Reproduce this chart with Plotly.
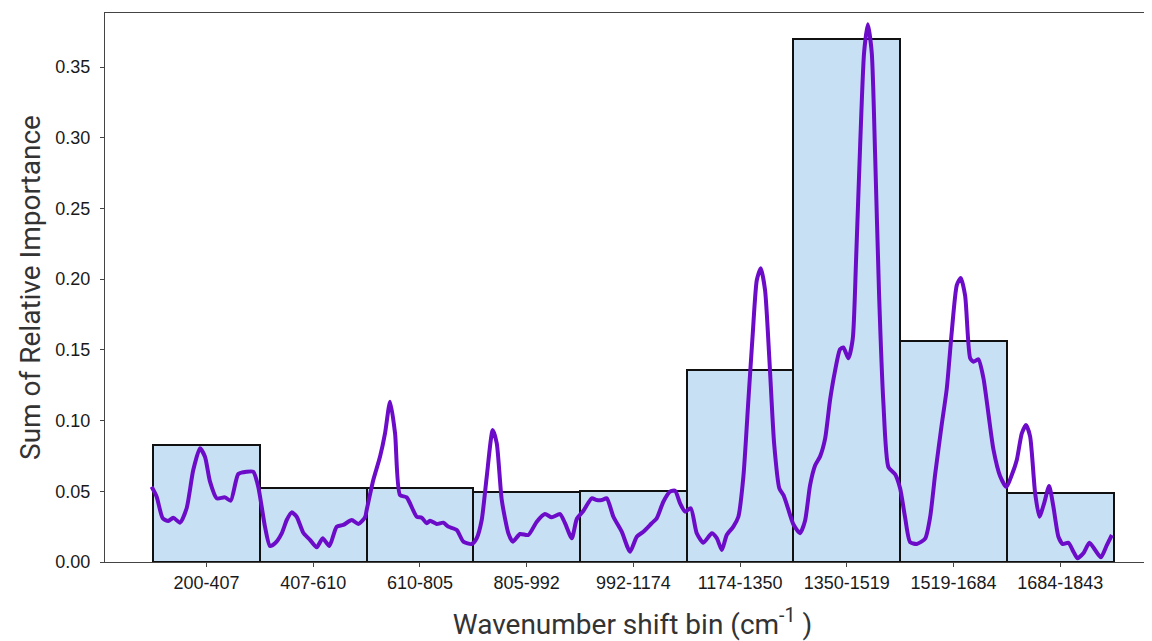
import plotly.graph_objects as go

bins = ["200-407", "407-610", "610-805", "805-992", "992-1174",
        "1174-1350", "1350-1519", "1519-1684", "1684-1843"]
bin_importance = [0.0827, 0.0523, 0.0523, 0.0495, 0.0502, 0.1358, 0.3700, 0.1563, 0.0488]

# spectrum overlay, x in bin-index units
spec_x = [-0.514, -0.467, -0.410, -0.358, -0.311, -0.248, -0.186, -0.124, -0.061, -0.014,
          0.033, 0.096, 0.173, 0.227, 0.298, 0.377, 0.439, 0.485, 0.548, 0.595,
          0.642, 0.705, 0.752, 0.798, 0.845, 0.907, 0.970, 1.033, 1.089, 1.151,
          1.220, 1.282, 1.361, 1.423, 1.486, 1.501, 1.563, 1.626, 1.673, 1.720,
          1.767, 1.813, 1.876, 1.970, 2.017, 2.064, 2.095, 2.157, 2.219, 2.266,
          2.345, 2.407, 2.485, 2.532, 2.579, 2.626, 2.682, 2.720, 2.767, 2.829,
          2.870, 2.938, 3.016, 3.095, 3.172, 3.235, 3.313, 3.360, 3.423, 3.470,
          3.531, 3.610, 3.657, 3.704, 3.751, 3.813, 3.891, 3.969, 4.032, 4.094,
          4.172, 4.219, 4.281, 4.344, 4.391, 4.438, 4.485, 4.538, 4.594, 4.656,
          4.735, 4.782, 4.829, 4.875, 4.937, 4.984, 5.031, 5.078, 5.119, 5.157,
          5.194, 5.234, 5.275, 5.319, 5.368, 5.406, 5.438, 5.499, 5.562, 5.609,
          5.656, 5.703, 5.750, 5.797, 5.844, 5.890, 5.937, 5.968, 6.015, 6.056,
          6.087, 6.125, 6.162, 6.197, 6.234, 6.265, 6.303, 6.343, 6.390, 6.453,
          6.500, 6.546, 6.593, 6.656, 6.734, 6.781, 6.828, 6.890, 6.937, 6.984,
          7.031, 7.068, 7.109, 7.156, 7.187, 7.233, 7.280, 7.327, 7.374, 7.437,
          7.496, 7.546, 7.593, 7.640, 7.680, 7.718, 7.765, 7.805, 7.849, 7.896,
          7.936, 7.983, 8.024, 8.077, 8.124, 8.161, 8.217, 8.274, 8.327, 8.381,
          8.437, 8.484]
spec_y = [0.0532, 0.0462, 0.0309, 0.0290, 0.0313, 0.0278, 0.0380, 0.0650, 0.0804, 0.0744,
          0.0568, 0.0450, 0.0457, 0.0433, 0.0622, 0.0638, 0.0638, 0.0532, 0.0250, 0.0113,
          0.0132, 0.0203, 0.0297, 0.0351, 0.0320, 0.0207, 0.0156, 0.0104, 0.0168, 0.0113,
          0.0250, 0.0262, 0.0297, 0.0269, 0.0316, 0.0368, 0.0580, 0.0744, 0.0910, 0.1133,
          0.0910, 0.0474, 0.0457, 0.0320, 0.0313, 0.0274, 0.0292, 0.0269, 0.0278, 0.0250,
          0.0226, 0.0144, 0.0127, 0.0168, 0.0297, 0.0603, 0.0933, 0.0839, 0.0438, 0.0203,
          0.0144, 0.0198, 0.0191, 0.0285, 0.0339, 0.0316, 0.0339, 0.0274, 0.0168, 0.0304,
          0.0361, 0.0450, 0.0438, 0.0438, 0.0450, 0.0320, 0.0214, 0.0073, 0.0179, 0.0214,
          0.0274, 0.0309, 0.0426, 0.0497, 0.0504, 0.0415, 0.0356, 0.0380, 0.0203, 0.0136,
          0.0203, 0.0168, 0.0085, 0.0191, 0.0250, 0.0320, 0.0603, 0.1145, 0.1617, 0.1994,
          0.2077, 0.1923, 0.1428, 0.0839, 0.0521, 0.0474, 0.0406, 0.0267, 0.0204, 0.0292,
          0.0544, 0.0683, 0.0747, 0.0872, 0.1150, 0.1352, 0.1504, 0.1517, 0.1441, 0.1579,
          0.2135, 0.2943, 0.3600, 0.3802, 0.3600, 0.2892, 0.1883, 0.1125, 0.0671, 0.0620,
          0.0519, 0.0317, 0.0141, 0.0128, 0.0165, 0.0317, 0.0620, 0.0974, 0.1226, 0.1631,
          0.1958, 0.2009, 0.1883, 0.1441, 0.1416, 0.1433, 0.1302, 0.1049, 0.0797, 0.0607,
          0.0530, 0.0615, 0.0721, 0.0910, 0.0969, 0.0886, 0.0486, 0.0320, 0.0415, 0.0537,
          0.0391, 0.0179, 0.0127, 0.0136, 0.0073, 0.0026, 0.0062, 0.0136, 0.0085, 0.0033,
          0.0120, 0.0191]

y_ticks = [0.00, 0.05, 0.10, 0.15, 0.20, 0.25, 0.30, 0.35]

fig = go.Figure()
fig.add_trace(go.Bar(
    x=list(range(len(bins))), y=bin_importance, width=1.0,
    marker=dict(color="#c8e0f4", line=dict(color="#111111", width=2)),
    showlegend=False,
))
fig.add_trace(go.Scatter(
    x=spec_x, y=spec_y, mode="lines",
    line=dict(color="#6c0cc8", width=4, shape="spline", smoothing=0.6),
    showlegend=False,
))

tick_font = dict(family="Liberation Sans, Arial, sans-serif", size=18, color="#1a1a1a")
title_font = dict(family="Roboto, Arial, sans-serif", size=28, color="#333333")

fig.update_layout(
    width=1152, height=641,
    margin=dict(l=97, r=0, t=5, b=87),
    paper_bgcolor="white", plot_bgcolor="white",
    font=dict(family="Roboto, Arial, sans-serif", color="#222222"),
    bargap=0,
)
fig.update_xaxes(
    range=[-0.951, 8.935],
    tickvals=list(range(len(bins))), ticktext=bins,
    tickfont=tick_font,
    ticks="outside", ticklen=4, tickcolor="#444444",
    showline=True, linecolor="#444444", linewidth=1, mirror=True,
    showgrid=False, zeroline=False,
    title=dict(text="Wavenumber shift bin (cm<sup>-1</sup> )", font=title_font, standoff=22),
)
fig.update_yaxes(
    range=[0, 0.3882],
    tickvals=y_ticks, ticktext=[f"{v:.2f}" for v in y_ticks],
    tickfont=tick_font,
    ticks="outside", ticklen=4, tickcolor="#444444", ticklabelstandoff=6,
    showline=True, linecolor="#444444", linewidth=1,
    showgrid=False, zeroline=False,
    title=dict(text="Sum of Relative Importance", font=title_font, standoff=6),
)

fig.write_html("out.html")
